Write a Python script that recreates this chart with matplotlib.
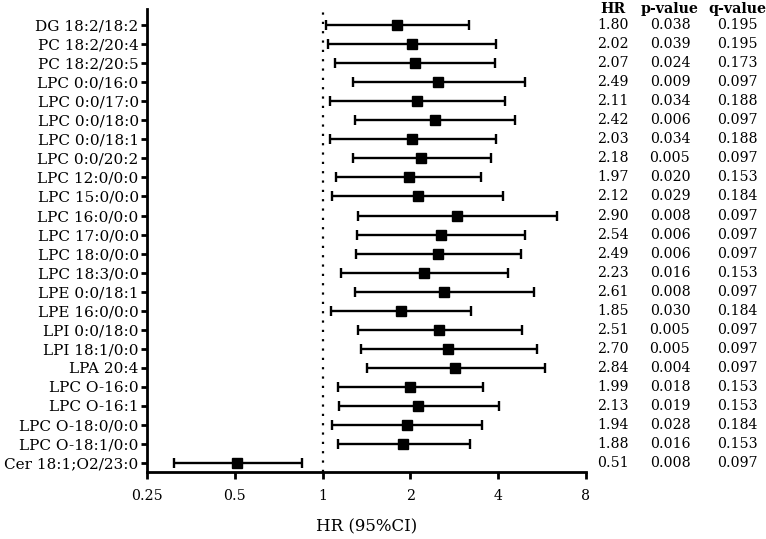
import numpy as np
import matplotlib
matplotlib.use('Agg')
import matplotlib.pyplot as plt
from matplotlib.transforms import blended_transform_factory

plt.rcParams['font.family'] = ['DejaVu Serif']
plt.rcParams['font.size'] = 10.2

labels = ['DG 18:2/18:2', 'PC 18:2/20:4', 'PC 18:2/20:5', 'LPC 0:0/16:0', 'LPC 0:0/17:0',
          'LPC 0:0/18:0', 'LPC 0:0/18:1', 'LPC 0:0/20:2', 'LPC 12:0/0:0', 'LPC 15:0/0:0',
          'LPC 16:0/0:0', 'LPC 17:0/0:0', 'LPC 18:0/0:0', 'LPC 18:3/0:0', 'LPE 0:0/18:1',
          'LPE 16:0/0:0', 'LPI 0:0/18:0', 'LPI 18:1/0:0', 'LPA 20:4', 'LPC O-16:0',
          'LPC O-16:1', 'LPC O-18:0/0:0', 'LPC O-18:1/0:0', 'Cer 18:1;O2/23:0']
hr = [1.80, 2.02, 2.07, 2.49, 2.11, 2.42, 2.03, 2.18, 1.97, 2.12, 2.90, 2.54,
      2.49, 2.23, 2.61, 1.85, 2.51, 2.70, 2.84, 1.99, 2.13, 1.94, 1.88, 0.51]
ci_low = [1.03, 1.04, 1.10, 1.27, 1.06, 1.29, 1.06, 1.27, 1.11, 1.08, 1.32, 1.31,
          1.30, 1.16, 1.29, 1.07, 1.32, 1.35, 1.42, 1.13, 1.14, 1.08, 1.13, 0.31]
ci_high = [3.17, 3.94, 3.90, 4.96, 4.21, 4.57, 3.94, 3.78, 3.50, 4.17, 6.36, 4.96,
           4.77, 4.32, 5.32, 3.23, 4.81, 5.44, 5.77, 3.55, 4.02, 3.53, 3.19, 0.85]
p_values = [0.038, 0.039, 0.024, 0.009, 0.034, 0.006, 0.034, 0.005, 0.020, 0.029, 0.008, 0.006,
            0.006, 0.016, 0.008, 0.030, 0.005, 0.005, 0.004, 0.018, 0.019, 0.028, 0.016, 0.008]
q_values = [0.195, 0.195, 0.173, 0.097, 0.188, 0.097, 0.188, 0.097, 0.153, 0.184, 0.097, 0.097,
            0.097, 0.153, 0.097, 0.184, 0.097, 0.097, 0.097, 0.153, 0.153, 0.184, 0.153, 0.097]
x_ticks = [0.25, 0.5, 1, 2, 4, 8]

hr = np.array(hr)
ci_low = np.array(ci_low)
ci_high = np.array(ci_high)
y = np.arange(len(labels))

fig = plt.figure(figsize=(7.66, 5.39), dpi=100)
ax = fig.add_axes([0.192, 0.124, 0.573, 0.859])

ax.axvline(1, color='black', linestyle=(0, (1, 3.2)), linewidth=1.6, zorder=1)
ax.errorbar(hr, y, xerr=[hr - ci_low, ci_high - hr], fmt='s', color='black',
            markersize=7, elinewidth=1.7, capsize=3.3, capthick=1.7, zorder=3)

ax.set_xscale('log', base=2)
ax.set_xlim(0.25, 8)
ax.set_xticks(x_ticks)
ax.set_xticklabels(['0.25', '0.5', '1', '2', '4', '8'])
ax.minorticks_off()
ax.set_ylim(len(labels) - 0.52, -0.84)
ax.set_yticks(y)
ax.set_yticklabels(labels, fontsize=11)
ax.set_xlabel('HR (95%CI)', labelpad=11, fontsize=12)

for s in ['top', 'right']:
    ax.spines[s].set_visible(False)
for s in ['left', 'bottom']:
    ax.spines[s].set_linewidth(2)
ax.tick_params(axis='x', length=5, width=2, pad=7)
ax.tick_params(axis='y', length=4, width=2, pad=2)

# table columns on the right
tr = blended_transform_factory(fig.transFigure, ax.transData)
cols = [613 / 766, 670 / 766, 737 / 766]
for cx, head in zip(cols, ['HR', 'p-value', 'q-value']):
    ax.text(cx, -0.92, head, transform=tr, ha='center', va='center_baseline',
            fontweight='bold', clip_on=False)
for i in range(len(labels)):
    ax.text(cols[0], i, f'{hr[i]:.2f}', transform=tr, ha='center', va='center', clip_on=False)
    ax.text(cols[1], i, f'{p_values[i]:.3f}', transform=tr, ha='center', va='center', clip_on=False)
    ax.text(cols[2], i, f'{q_values[i]:.3f}', transform=tr, ha='center', va='center', clip_on=False)

fig.savefig('out.png', dpi=100)
